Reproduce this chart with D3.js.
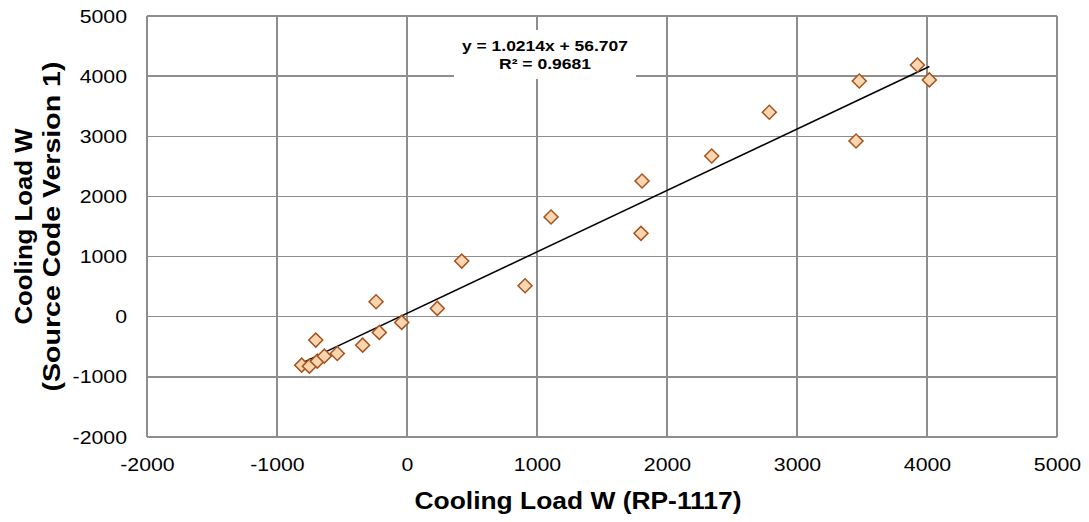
<!DOCTYPE html>
<html lang="en">
<head>
<meta charset="UTF-8">
<script src="https://d3js.org/d3.v7.min.js"></script>
<title>Cooling Load comparison</title>
<style>
  body { margin: 0; background: #fff; font-family: "Liberation Sans", Arial, sans-serif; }
  .grid line { stroke: #8e8e8e; stroke-width: 1.5; shape-rendering: crispEdges; }
  .label { font-size: 23px; font-weight: bold; fill: #000; }
</style>
</head>
<body>
<script>
// data
var rp1117 = [-810, -751, -690, -636, -536, -702, -341, -213, -238, -41, 233,
              421, 908, 1108, 1800, 1808, 2344, 2787, 3454, 3479, 3926, 4018];
var source1 = [-805, -822, -739, -656, -611, -389, -473, -261, 248, -95, 138,
               925, 515, 1657, 1386, 2256, 2672, 3399, 2922, 3920, 4186, 3937];
var xTicks = [-2000, -1000, 0, 1000, 2000, 3000, 4000, 5000];
var yTicks = [-2000, -1000, 0, 1000, 2000, 3000, 4000, 5000];
var slope = 1.0214, intercept = 56.707;
var fitLines = ["y = 1.0214x + 56.707", "R\u00b2 = 0.9681"];

var W = 1089, H = 522;
var margin = {top: 16, right: 32, bottom: 85, left: 147};
var width = W - margin.left - margin.right,
    height = H - margin.top - margin.bottom;

// the source picture is a bit wider than the fonts, stretch text to match
function stretch(sel, k) {
  sel.each(function() {
    var len = this.getComputedTextLength();
    d3.select(this).attr("textLength", len * k).attr("lengthAdjust", "spacingAndGlyphs");
  });
}

var svg = d3.select("body").append("svg")
    .attr("width", W)
    .attr("height", H)
  .append("g")
    .attr("transform", "translate(" + margin.left + "," + margin.top + ")");

var x = d3.scaleLinear().domain([-2000, 5000]).range([0, width]);
var y = d3.scaleLinear().domain([-2000, 5000]).range([height, 0]);

// grid
var grid = svg.append("g").attr("class", "grid");
grid.selectAll(".vx").data(xTicks).enter().append("line")
    .attr("x1", function(d) { return x(d); }).attr("x2", function(d) { return x(d); })
    .attr("y1", 0).attr("y2", height);
grid.selectAll(".hy").data(yTicks).enter().append("line")
    .attr("x1", 0).attr("x2", width)
    .attr("y1", function(d) { return y(d); }).attr("y2", function(d) { return y(d); });

// axes (labels only)
var fmt = function(d) { return String(d); };
var xAxis = svg.append("g")
    .attr("transform", "translate(0," + height + ")")
    .call(d3.axisBottom(x).tickValues(xTicks).tickSize(0).tickPadding(21).tickFormat(fmt));
xAxis.select(".domain").remove();

var yAxis = svg.append("g")
    .call(d3.axisLeft(y).tickValues(yTicks).tickSize(0).tickPadding(20).tickFormat(fmt));
yAxis.select(".domain").remove();

svg.selectAll(".tick text")
    .attr("font-family", "Liberation Sans, Arial, sans-serif")
    .attr("font-size", 19)
    .attr("fill", "#000")
    .call(stretch, 1.12);

// trend line
var x0 = d3.min(rp1117), x1 = d3.max(rp1117);
svg.append("line")
    .attr("x1", x(x0)).attr("y1", y(slope * x0 + intercept))
    .attr("x2", x(x1)).attr("y2", y(slope * x1 + intercept))
    .attr("stroke", "#000").attr("stroke-width", 1.5);

// points
var diamond = d3.symbol().type(d3.symbolSquare).size(98);
svg.selectAll(".dot")
    .data(rp1117)
  .enter().append("path")
    .attr("class", "dot")
    .attr("d", diamond)
    .attr("transform", function(d, i) {
      return "translate(" + x(d) + "," + y(source1[i]) + ") rotate(45)";
    })
    .attr("fill", "#fdd5b1")
    .attr("stroke", "#a4541c")
    .attr("stroke-width", 1.5);

// equation box
svg.append("rect")
    .attr("x", 307).attr("y", 14)
    .attr("width", 182).attr("height", 49)
    .attr("fill", "#fff");
svg.selectAll(".eq")
    .data(fitLines)
  .enter().append("text")
    .attr("x", 398)
    .attr("y", function(d, i) { return 34.5 + i * 18; })
    .attr("text-anchor", "middle")
    .attr("font-size", "15px")
    .attr("font-weight", "bold")
    .text(function(d) { return d; })
    .attr("textLength", function(d, i) { return i ? 92 : 166; })
    .attr("lengthAdjust", "spacingAndGlyphs");

// axis titles
svg.append("text")
    .attr("class", "label")
    .attr("x", 431)
    .attr("y", height + 72)
    .attr("text-anchor", "middle")
    .attr("textLength", 327)
    .attr("lengthAdjust", "spacingAndGlyphs")
    .text("Cooling Load W (RP-1117)");

var yl = svg.append("text")
    .attr("class", "label")
    .attr("transform", "translate(" + (-115) + "," + (height / 2) + ") rotate(-90)")
    .attr("text-anchor", "middle");
yl.append("tspan").attr("x", 0).attr("dy", 0)
    .attr("textLength", 196).attr("lengthAdjust", "spacingAndGlyphs")
    .text("Cooling Load W");
yl.append("tspan").attr("x", 0).attr("dy", 28)
    .attr("textLength", 330).attr("lengthAdjust", "spacingAndGlyphs")
    .text("(Source Code Version 1)");
</script>
</body>
</html>
